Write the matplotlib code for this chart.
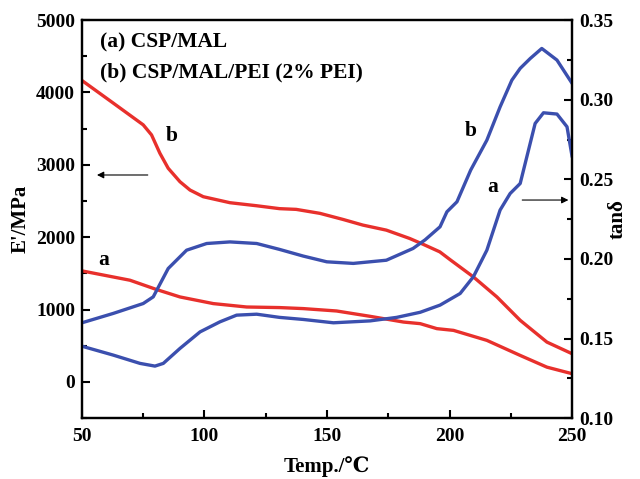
import matplotlib
matplotlib.use("Agg")
import matplotlib.pyplot as plt
from matplotlib.ticker import MultipleLocator, FormatStrFormatter

plt.rcParams['font.family'] = ['Liberation Serif', 'DejaVu Serif']
plt.rcParams['font.weight'] = 'bold'

# storage modulus E' (MPa), curve b
temp_eb = [50, 62.8, 75, 78.4, 81.8, 85.2, 90, 94.1, 99.5, 110.4, 121.3, 130.6, 137.4, 147.1,
           156.5, 164.6, 174.2, 183.7, 189.1, 196, 200.2, 209.7, 219.3, 228.8, 239.7, 250]
e_b = [4166, 3853, 3553, 3414, 3161, 2953, 2767, 2652, 2560, 2477, 2435, 2395, 2385, 2330,
       2246, 2168, 2098, 1983, 1904, 1798, 1690, 1452, 1175, 852, 551, 390]

# storage modulus E' (MPa), curve a
temp_ea = [50, 69.6, 80.5, 90, 103.6, 117.2, 130.6, 140.3, 153.9, 167.6, 181.2, 188,
           194.8, 201.6, 208.4, 215.2, 228.8, 239.7, 250]
e_a = [1535, 1406, 1277, 1175, 1083, 1036, 1028, 1014, 981, 907, 828, 806,
       737, 713, 644, 575, 367, 205, 114]

# tan delta, curve b
temp_tb = [50, 62.8, 75, 79.1, 85.2, 92.7, 100.9, 110.4, 121.3, 130.6, 140.3, 149.9, 160.7,
           174.2, 185.1, 190, 196.1, 198.9, 203, 208.6, 215.2, 220.6, 225.4, 228.8, 232.9,
           237.6, 243.8, 250]
tan_b = [0.1599, 0.1658, 0.1720, 0.1762, 0.1940, 0.2055, 0.2097, 0.2107, 0.2097, 0.2060,
         0.2018, 0.1982, 0.1972, 0.1992, 0.2066, 0.2120, 0.2202, 0.2296, 0.2359, 0.2558,
         0.2746, 0.2955, 0.3123, 0.3197, 0.3259, 0.3322, 0.3249, 0.3102]

# tan delta, curve a
temp_ta = [50, 62.8, 73.7, 79.8, 83.2, 90, 98.2, 106.3, 113.1, 121.3, 130.6, 140.3, 152.6,
           167.6, 178.4, 188, 196.1, 204.3, 209.7, 215.2, 220.6, 224.7, 228.8, 231.5, 234.9,
           238.3, 243.8, 247.9, 250]
tan_a = [0.1452, 0.1396, 0.1344, 0.1327, 0.1344, 0.1438, 0.1542, 0.1605, 0.1647, 0.1653,
         0.1633, 0.1620, 0.1599, 0.1611, 0.1633, 0.1665, 0.1710, 0.1783, 0.1888, 0.2055,
         0.2307, 0.2411, 0.2474, 0.2641, 0.2851, 0.2918, 0.2910, 0.2830, 0.2641]

red = '#e8302c'
blue = '#3b4fae'

fig, ax = plt.subplots(figsize=(6.4, 4.79), dpi=100)
fig.subplots_adjust(left=0.128, right=0.894, top=0.958, bottom=0.127)
ax2 = ax.twinx()

style = dict(lw=2.4, solid_joinstyle='round', solid_capstyle='round')
ax.plot(temp_eb, e_b, color=red, **style)
ax.plot(temp_ea, e_a, color=red, **style)
ax2.plot(temp_tb, tan_b, color=blue, **style)
ax2.plot(temp_ta, tan_a, color=blue, **style)

ax.set_xlim(50, 250)
ax.set_ylim(-500, 5000)
ax2.set_ylim(0.10, 0.35)

ax.xaxis.set_major_locator(MultipleLocator(50))
ax.xaxis.set_minor_locator(MultipleLocator(25))
ax.yaxis.set_major_locator(MultipleLocator(1000))
ax.yaxis.set_minor_locator(MultipleLocator(500))
ax2.yaxis.set_major_locator(MultipleLocator(0.05))
ax2.yaxis.set_minor_locator(MultipleLocator(0.025))
ax2.yaxis.set_major_formatter(FormatStrFormatter('%.2f'))

for a in (ax, ax2):
    for s in a.spines.values():
        s.set_linewidth(1.6)
    a.tick_params(which='both', direction='in', width=1.5, labelsize=14)
    a.tick_params(which='major', length=6)
    a.tick_params(which='minor', length=3.5)
ax.tick_params(axis='x', which='both', top=False, pad=7)
ax.tick_params(axis='y', pad=5)
ax2.tick_params(axis='y', pad=5)

ax.set_xlabel('Temp./\u2103', fontsize=15, fontweight='bold', labelpad=8)
ax.set_ylabel("E'/MPa", fontsize=15, fontweight='bold', labelpad=4)
ax2.set_ylabel('tan\u03b4', fontsize=15, fontweight='bold', labelpad=-4)

ax.text(0.037, 0.93, '(a) CSP/MAL', transform=ax.transAxes, fontsize=15.5, fontweight='bold')
ax.text(0.037, 0.855, '(b) CSP/MAL/PEI (2% PEI)', transform=ax.transAxes, fontsize=15.5, fontweight='bold')

ax.text(84, 3330, 'b', fontsize=15.5, fontweight='bold')
ax.text(56.5, 1620, 'a', fontsize=15.5, fontweight='bold')
ax2.text(206, 0.277, 'b', fontsize=15.5, fontweight='bold')
ax2.text(215.5, 0.242, 'a', fontsize=15.5, fontweight='bold')

ax.annotate('', xy=(55, 2860), xytext=(78, 2860),
            arrowprops=dict(arrowstyle='-|>', color='black', lw=0.8, mutation_scale=10))
ax2.annotate('', xy=(249.6, 0.237), xytext=(228.5, 0.237),
             arrowprops=dict(arrowstyle='-|>', color='black', lw=0.8, mutation_scale=10))

fig.savefig('out.png', dpi=100)
